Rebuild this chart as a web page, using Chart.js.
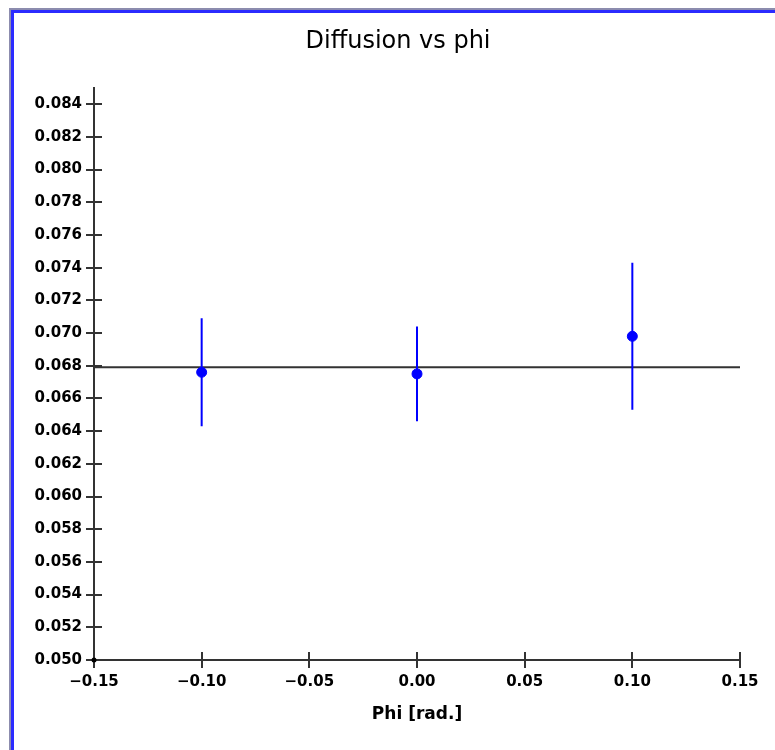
<!DOCTYPE html>
<html>
<head>
<meta charset="utf-8">
<script src="https://cdn.jsdelivr.net/npm/chart.js@4/dist/chart.umd.min.js"></script>
<style>
  body { margin: 0; background: #fff; overflow: hidden; }
  #frame {
    position: absolute; left: 9px; top: 8px; width: 800px; height: 800px;
    border-left: 2px solid #8c8cae; border-top: 2px solid #8c8cae;
  }
  #frame div {
    width: 100%; height: 100%;
    border-left: 3px solid #2b2bff; border-top: 3px solid #2b2bff;
  }
  #chart { position: absolute; left: 0; top: 0; }
</style>
</head>
<body>
<div id="frame"><div></div></div>
<canvas id="chart" width="775" height="750"></canvas>
<script>
// measured values
const phi = [-0.10, 0.00, 0.10];
const diffusion = [0.0676, 0.0675, 0.0698];
const errors = [0.0033, 0.0029, 0.0045];
const fitLevel = 0.0679;
const xRange = [-0.15, 0.15];
const yRange = [0.050, 0.085];
const xTicks = [-0.15, -0.10, -0.05, 0.00, 0.05, 0.10, 0.15];
const yTicks = [0.050, 0.052, 0.054, 0.056, 0.058, 0.060, 0.062, 0.064, 0.066,
  0.068, 0.070, 0.072, 0.074, 0.076, 0.078, 0.080, 0.082, 0.084];

const tickFont = { family: "DejaVu Sans", size: 15, weight: "bold" };

function fmt(v, digits) {
  if (Math.abs(v) < 1e-9) v = 0;
  const s = Math.abs(v).toFixed(digits);
  return v < 0 ? "\u2212" + s : s;
}

// error bars, one small line dataset per point
const errorSets = phi.map((p, i) => ({
  type: "line",
  data: [
    { x: p, y: diffusion[i] - errors[i] },
    { x: p, y: diffusion[i] + errors[i] },
  ],
  borderColor: "#0000ff",
  borderWidth: 2,
  pointRadius: 0,
  order: 2,
}));

// ticks that cross the axis (inner half)
const innerTicks = {
  id: "innerTicks",
  afterDatasetsDraw(chart) {
    const { ctx, chartArea, scales } = chart;
    ctx.save();
    ctx.strokeStyle = "#333";
    ctx.lineWidth = 2;
    ctx.beginPath();
    scales.x.ticks.forEach((t, i) => {
      const px = Math.round(scales.x.getPixelForTick(i));
      ctx.moveTo(px, chartArea.bottom);
      ctx.lineTo(px, chartArea.bottom - 8);
    });
    scales.y.ticks.forEach((t, i) => {
      const py = Math.round(scales.y.getPixelForTick(i));
      ctx.moveTo(chartArea.left, py);
      ctx.lineTo(chartArea.left + 8, py);
    });
    ctx.stroke();
    // small dot at the origin corner
    ctx.fillStyle = "#000";
    ctx.beginPath();
    ctx.arc(scales.x.getPixelForValue(xRange[0]), scales.y.getPixelForValue(yRange[0]), 2.5, 0, Math.PI * 2);
    ctx.fill();
    ctx.restore();
  },
};

new Chart(document.getElementById("chart"), {
  type: "scatter",
  data: {
    datasets: [
      {
        type: "line",
        data: [
          { x: xRange[0], y: fitLevel },
          { x: xRange[1], y: fitLevel },
        ],
        borderColor: "#333",
        borderWidth: 2,
        pointRadius: 0,
        order: 3,
      },
      ...errorSets,
      {
        data: phi.map((p, i) => ({ x: p, y: diffusion[i] })),
        backgroundColor: "#0000ff",
        borderColor: "#0000ff",
        pointRadius: 5,
        order: 1,
      },
    ],
  },
  options: {
    responsive: false,
    animation: false,
    layout: { padding: { left: 21, right: 0, top: 0, bottom: 0 } },
    plugins: {
      legend: { display: false },
      tooltip: { enabled: false },
      title: {
        display: true,
        text: "Diffusion vs phi",
        color: "#000",
        font: { family: "DejaVu Sans", size: 24, weight: "normal" },
        padding: { top: 27, bottom: 32 },
      },
    },
    scales: {
      x: {
        type: "linear",
        min: xRange[0],
        max: xRange[1],
        grid: { drawOnChartArea: false, color: "#333", lineWidth: 2, tickLength: 8 },
        border: { color: "#333", width: 2 },
        afterBuildTicks: (s) => { s.ticks = xTicks.map((v) => ({ value: v })); },
        ticks: {
          color: "#000",
          font: tickFont,
          padding: 5,
          maxRotation: 0,
          autoSkip: false,
          callback: (v) => fmt(v, 2),
        },
        title: {
          display: true,
          text: "Phi [rad.]",
          color: "#000",
          font: { family: "DejaVu Sans", size: 17, weight: "bold" },
          padding: { top: 0, bottom: 25 },
        },
        afterFit: (s) => { s.height = 90; },
      },
      y: {
        type: "linear",
        min: yRange[0],
        max: yRange[1],
        grid: { drawOnChartArea: false, color: "#333", lineWidth: 2, tickLength: 8 },
        border: { color: "#333", width: 2 },
        afterBuildTicks: (s) => { s.ticks = yTicks.map((v) => ({ value: v })); },
        ticks: {
          color: "#000",
          font: tickFont,
          padding: 4,
          autoSkip: false,
          callback: (v) => fmt(v, 3),
        },
        afterFit: (s) => { s.width = 73; },
      },
      // empty right-hand spacer so the plot ends at the same place
      spacer: {
        type: "linear",
        position: "right",
        grid: { display: false },
        border: { display: false },
        ticks: { display: false },
        afterFit: (s) => { s.width = 35; },
      },
    },
  },
  plugins: [innerTicks],
});
</script>
</body>
</html>
